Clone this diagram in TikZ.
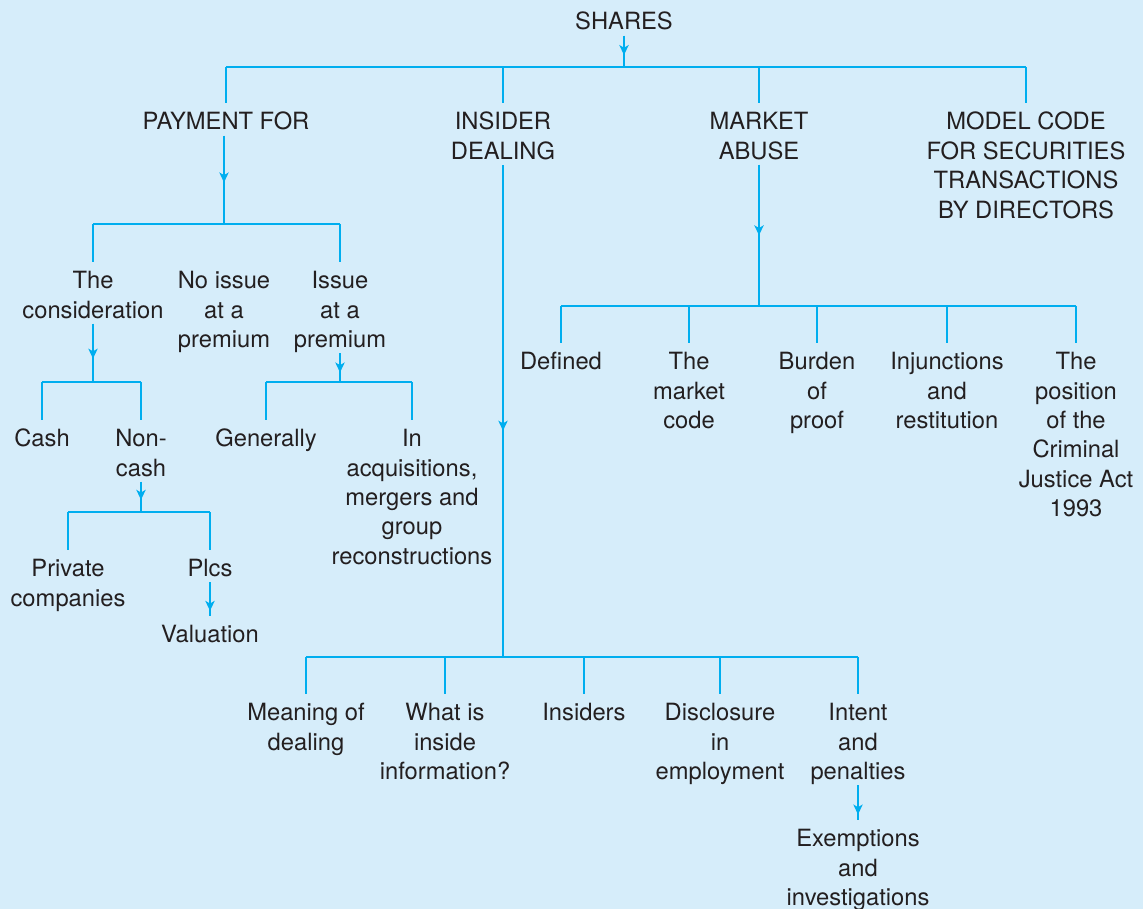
\documentclass[tikz,border=0pt]{standalone}
\usepackage{fontspec}
\setmainfont{TeX Gyre Heros}
\usetikzlibrary{arrows.meta,decorations.markings}
\definecolor{bg}{RGB}{214,237,250}
\definecolor{ln}{RGB}{0,174,239}
\definecolor{tx}{RGB}{35,31,32}
\begin{document}
\begin{tikzpicture}[x=0.75pt,y=-0.75pt,
  lbl/.style={anchor=north,align=center,inner sep=0pt,text=tx,
    font=\fontsize{17.8}{22.1}\selectfont,
    execute at begin node={\rule{0pt}{13pt}},
    execute at end node={\rule[-4pt]{0pt}{4pt}}},
  conn/.style={draw=ln,line width=1.1pt},
  drop/.style={conn,shorten >=7pt},
  midarrow/.style={conn,postaction={decorate,decoration={markings,
    mark=at position #1 with {\arrow[ln]{Stealth[length=7.5pt,width=7pt,inset=2pt]}}}}},
  midarrow/.default=0.6]
\fill[bg] (0,0) rectangle (1143,909);
\useasboundingbox (0,0) rectangle (1143,909);

% level 0/1
\node[lbl] (shares) at (624,12) {SHARES};
\node[lbl] (pay) at (226,112) {PAYMENT FOR};
\node[lbl] (ins) at (503,112) {INSIDER\\DEALING};
\node[lbl] (mkt) at (759,112) {MARKET\\ABUSE};
\node[lbl] (model) at (1026,112) {MODEL CODE\\FOR SECURITIES\\TRANSACTIONS\\BY DIRECTORS};

% payment branch
\node[lbl] (cons) at (93,271) {The\\consideration};
\node[lbl] (noiss) at (224,271) {No issue\\at a\\premium};
\node[lbl] (iss) at (340,271) {Issue\\at a\\premium};
\node[lbl] (cash) at (42,429) {Cash};
\node[lbl] (noncash) at (141,429) {Non-\\cash};
\node[lbl] (gen) at (266,429) {Generally};
\node[lbl] (acq) at (412,429) {In\\acquisitions,\\mergers and\\group\\reconstructions};
\node[lbl] (priv) at (68,559) {Private\\companies};
\node[lbl] (plcs) at (210,559) {Plcs};
\node[lbl] (val) at (210,625) {Valuation};

% market abuse branch
\node[lbl] (defd) at (561,352) {Defined};
\node[lbl] (mcode) at (689,352) {The\\market\\code};
\node[lbl] (burden) at (817,352) {Burden\\of\\proof};
\node[lbl] (inj) at (947,352) {Injunctions\\and\\restitution};
\node[lbl] (pos) at (1076,352) {The\\position\\of the\\Criminal\\Justice Act\\1993};

% insider dealing branch
\node[lbl] (meaning) at (306,703) {Meaning of\\dealing};
\node[lbl] (what) at (445,703) {What is\\inside\\information?};
\node[lbl] (insiders) at (584,703) {Insiders};
\node[lbl] (disc) at (720,703) {Disclosure\\in\\employment};
\node[lbl] (intent) at (858,703) {Intent\\and\\penalties};
\node[lbl] (exem) at (858,829) {Exemptions\\and\\investigations};

% junction coordinates
\coordinate (j0) at (624,67);
\coordinate (j1) at (224,224);
\coordinate (j2) at (93,382);
\coordinate (j3) at (340,382);
\coordinate (j4) at (141,512);
\coordinate (j5) at (759,306);
\coordinate (j6) at (503,657);

% SHARES
\draw[midarrow=0.62] (shares.south) -- (j0);
\draw[conn] (pay.north |- j0) -- (model.north |- j0);
\foreach \n in {pay,ins,mkt,model} \draw[drop] (\n.north |- j0) -- (\n.north);

% PAYMENT FOR
\draw[midarrow=0.53] (pay.south -| j1) -- (j1);
\draw[conn] (cons.north |- j1) -- (iss.north |- j1);
\foreach \n in {cons,iss} \draw[drop] (\n.north |- j1) -- (\n.north);

% consideration
\draw[midarrow=0.6] (cons.south) -- (j2);
\draw[conn] (cash.north |- j2) -- (noncash.north |- j2);
\foreach \n in {cash,noncash} \draw[drop] (\n.north |- j2) -- (\n.north);

% issue at a premium
\draw[midarrow=0.67] (iss.south) -- (j3);
\draw[conn] (gen.north |- j3) -- (acq.north |- j3);
\foreach \n in {gen,acq} \draw[drop] (\n.north |- j3) -- (\n.north);

% non-cash
\draw[midarrow=0.6] (noncash.south) -- (j4);
\draw[conn] (priv.north |- j4) -- (plcs.north |- j4);
\foreach \n in {priv,plcs} \draw[drop] (\n.north |- j4) -- (\n.north);

% Plcs -> Valuation
\draw[midarrow=0.67,shorten >=7pt] (plcs.south) -- (val.north);

% MARKET ABUSE
\draw[midarrow=0.5] (mkt.south) -- (j5);
\draw[conn] (defd.north |- j5) -- (pos.north |- j5);
\foreach \n in {defd,mcode,burden,inj,pos} \draw[drop] (\n.north |- j5) -- (\n.north);

% INSIDER DEALING
\draw[midarrow=0.54] (ins.south) -- (j6);
\draw[conn] (meaning.north |- j6) -- (intent.north |- j6);
\foreach \n in {meaning,what,insiders,disc,intent} \draw[drop] (\n.north |- j6) -- (\n.north);

% Intent -> Exemptions
\draw[midarrow=0.67,shorten >=7pt] (intent.south) -- (exem.north);
\end{tikzpicture}
\end{document}
